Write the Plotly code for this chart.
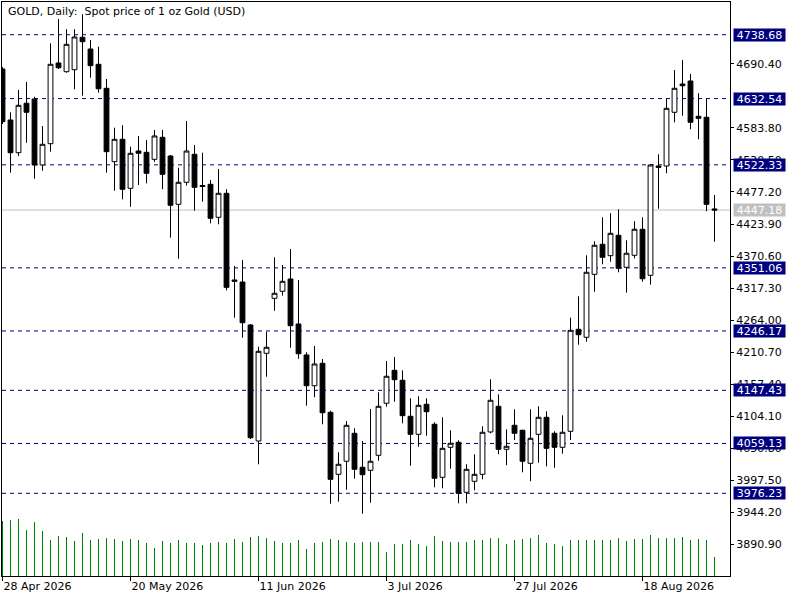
import plotly.graph_objects as go
import pandas as pd

# ---------------- data ----------------
dates = pd.bdate_range("2026-04-28", periods=90)

opens = [4681.7, 4596.9, 4542.5, 4624.7, 4631.8, 4522.1, 4557.5, 4691.7, 4677.2, 4680.5,
         4734.4, 4714.9, 4689.5, 4649.6, 4527.6, 4564.8, 4483.3, 4545.3, 4543.2, 4531.5,
         4568.1, 4537.0, 4456.7, 4493.3, 4539.9, 4488.0, 4490.0, 4435.1, 4475.0, 4330.9,
         4327.5, 4256.1, 4063.2, 4209.0, 4300.4, 4312.1, 4332.5, 4257.7, 4206.2, 4155.1,
         4192.4, 4110.9, 4007.8, 4029.5, 4076.0, 4019.5, 4014.5, 4039.4, 4125.9, 4180.7,
         4164.1, 4104.3, 4074.3, 4124.2, 4091.0, 4002.8, 4052.7, 4061.0, 3977.9, 3996.2,
         4007.8, 4078.2, 4120.9, 4049.4, 4089.3, 4081.0, 4026.1, 4074.3, 4102.6, 4076.0,
         4052.7, 4079.3, 4248.9, 4235.6, 4340.3, 4390.2, 4371.3, 4405.2, 4352.0, 4371.9,
         4415.2, 4338.7, 4520.4, 4520.4, 4609.7, 4656.7, 4661.7, 4603.0, 4601.4, 4449.0]
highs = [4685.0, 4609.7, 4646.8, 4660.1, 4635.6, 4586.9, 4724.4, 4764.8, 4747.7, 4747.7,
         4772.6, 4729.9, 4718.8, 4665.1, 4584.1, 4588.1, 4552.5, 4570.3, 4563.6, 4580.3,
         4580.3, 4538.7, 4517.6, 4595.2, 4555.3, 4542.5, 4497.1, 4515.4, 4481.7, 4354.1,
         4364.1, 4257.7, 4220.0, 4244.9, 4368.6, 4355.8, 4382.4, 4330.9, 4210.7, 4221.1,
         4199.5, 4113.6, 4044.4, 4096.4, 4084.3, 4063.2, 4116.4, 4144.2, 4196.2, 4202.9,
         4180.7, 4134.2, 4137.5, 4134.2, 4094.3, 4102.6, 4081.0, 4064.4, 4024.5, 4041.1,
         4087.6, 4165.8, 4140.8, 4082.6, 4115.9, 4082.0, 4115.9, 4120.9, 4112.6, 4079.3,
         4105.9, 4268.2, 4303.8, 4371.9, 4395.2, 4435.1, 4441.8, 4448.4, 4396.9, 4428.5,
         4435.1, 4523.5, 4539.9, 4631.8, 4680.0, 4696.6, 4673.4, 4641.3, 4631.8, 4472.2]
lows = [4590.2, 4509.3, 4537.0, 4559.1, 4499.3, 4512.6, 4544.2, 4681.7, 4675.5, 4647.9,
        4637.3, 4667.2, 4642.3, 4509.3, 4479.3, 4465.0, 4452.7, 4488.8, 4491.6, 4527.1,
        4481.7, 4401.2, 4366.3, 4487.7, 4446.1, 4461.1, 4425.1, 4423.5, 4313.7, 4268.2,
        4234.9, 4066.5, 4024.5, 4170.1, 4279.8, 4304.8, 4218.3, 4200.0, 4121.9, 4135.9,
        4091.0, 3959.0, 3962.3, 3982.2, 4000.5, 3942.3, 3960.6, 4030.4, 4120.2, 4128.5,
        4092.6, 4022.1, 4053.7, 4072.0, 3986.2, 3984.6, 4017.1, 3959.6, 3959.6, 3981.2,
        3999.5, 4076.0, 4041.1, 4022.8, 4064.9, 4011.2, 3996.2, 4027.1, 4021.1, 4018.8,
        4042.1, 4064.9, 4223.3, 4228.3, 4311.4, 4357.0, 4361.3, 4343.7, 4309.8, 4366.9,
        4328.0, 4323.1, 4449.4, 4508.3, 4593.1, 4604.0, 4581.4, 4564.8, 4445.1, 4394.5]
closes = [4594.1, 4542.5, 4621.3, 4609.7, 4522.1, 4556.5, 4689.5, 4683.8, 4722.7, 4734.9,
          4727.1, 4687.2, 4648.9, 4544.2, 4564.8, 4481.7, 4541.5, 4541.5, 4508.3, 4570.3,
          4506.6, 4455.1, 4493.3, 4545.3, 4485.0, 4486.3, 4433.5, 4475.0, 4318.7, 4328.7,
          4259.9, 4068.7, 4212.3, 4219.0, 4308.8, 4328.7, 4254.9, 4208.3, 4155.1, 4191.2,
          4110.2, 3999.5, 4024.5, 4089.3, 4016.1, 4007.2, 4029.5, 4120.9, 4170.8, 4165.1,
          4105.3, 4074.3, 4122.5, 4111.9, 4001.2, 4051.0, 4059.4, 3976.2, 4016.1, 4007.8,
          4077.7, 4130.9, 4049.4, 4054.4, 4076.0, 4029.5, 4067.7, 4102.6, 4051.0, 4052.7,
          4077.7, 4247.2, 4239.9, 4343.7, 4388.6, 4368.6, 4408.5, 4350.3, 4375.3, 4415.2,
          4333.0, 4522.1, 4518.2, 4616.3, 4649.6, 4653.9, 4593.1, 4599.7, 4456.7, 4447.18]
volumes = [55000, 56000, 57000, 46000, 54000, 45000, 36000, 40000, 39000, 35000,
           43000, 36000, 37000, 38000, 37000, 35000, 37000, 36000, 33000, 28000,
           35000, 33000, 36000, 33000, 33000, 31000, 33000, 34000, 33000, 37000,
           34000, 39000, 40000, 38000, 35000, 33000, 33000, 36000, 27000, 33000,
           34000, 37000, 36000, 34000, 33000, 34000, 34000, 34000, 24000, 32000,
           32000, 36000, 32000, 30000, 40000, 35000, 34000, 34000, 34000, 36000,
           36000, 38000, 38000, 32000, 36000, 37000, 38000, 41000, 33000, 32000,
           30000, 36000, 36000, 36000, 36000, 36000, 36000, 38000, 35000, 37000,
           37000, 41000, 38000, 38000, 38000, 39000, 36000, 37000, 36000, 19000]

levels = [4738.68, 4632.54, 4522.33, 4351.06, 4246.17, 4147.43, 4059.13, 3976.23]
last_price = 4447.18
price_ticks = [4690.40, 4583.80, 4530.50, 4477.20, 4423.90, 4370.60, 4317.30, 4264.00,
               4210.70, 4157.40, 4104.10, 4050.80, 3997.50, 3944.20, 3890.90]
date_ticks = ["2026-04-28", "2026-05-20", "2026-06-11", "2026-07-03", "2026-07-27", "2026-08-18"]
title_text = "GOLD, Daily:\u00a0 Spot price of 1 oz Gold (USD)"

# ---------------- figure ----------------
idx = list(range(len(dates)))
date_strs = [d.strftime("%Y-%m-%d") for d in dates]
tick_pos = [date_strs.index(d) for d in date_ticks]
tick_txt = [pd.Timestamp(d).strftime("%-d %b %Y") for d in date_ticks]

FONT = "DejaVu Sans"
NAVY = "#000080"

fig = go.Figure()

# volume histogram (thin green lines)
vx, vy = [], []
for i, v in zip(idx, volumes):
    vx += [i, i, None]
    vy += [0, v, None]
fig.add_trace(go.Scatter(x=vx, y=vy, mode="lines", yaxis="y2",
                         line=dict(color="#008000", width=1),
                         hoverinfo="skip", showlegend=False))

fig.add_trace(go.Candlestick(
    x=idx, open=opens, high=highs, low=lows, close=closes,
    increasing=dict(line=dict(color="black", width=1), fillcolor="white"),
    decreasing=dict(line=dict(color="black", width=1), fillcolor="black"),
    whiskerwidth=0, showlegend=False))

shapes = []
for lv in levels:
    shapes.append(dict(type="line", xref="paper", x0=0, x1=1, yref="y", y0=lv, y1=lv,
                       line=dict(color=NAVY, width=1, dash="4px,4px"), layer="below"))
shapes.append(dict(type="line", xref="paper", x0=0, x1=1, yref="y", y0=last_price, y1=last_price,
                   line=dict(color="#C0C0C0", width=1), layer="below"))

annotations = [dict(text=title_text, xref="paper", yref="paper", x=0.005, y=0.999,
                    xanchor="left", yanchor="top", showarrow=False,
                    font=dict(family=FONT, size=11, color="black"))]
for lv in levels:
    annotations.append(dict(text=f"{lv:.2f}", xref="paper", yref="y", x=1.0045, y=lv,
                            xanchor="left", yanchor="middle", showarrow=False,
                            bgcolor=NAVY, width=51, height=12, borderpad=0, align="center",
                            font=dict(family=FONT, size=11, color="white")))
annotations.append(dict(text=f"{last_price:.2f}", xref="paper", yref="y", x=1.0045, y=last_price,
                        xanchor="left", yanchor="middle", showarrow=False,
                        bgcolor="#C0C0C0", width=51, height=12, borderpad=0, align="center",
                        font=dict(family=FONT, size=11, color="white")))

fig.update_layout(
    width=800, height=600,
    margin=dict(l=2, r=70, t=2, b=24),
    paper_bgcolor="white", plot_bgcolor="white",
    font=dict(family=FONT, size=11, color="black"),
    showlegend=False,
    boxgap=0.4, boxgroupgap=0,
    shapes=shapes, annotations=annotations,
    xaxis=dict(range=[-0.0625, 90.9375], tickvals=tick_pos, ticktext=tick_txt,
               ticks="outside", ticklen=4, tickcolor="black", tickwidth=1,
               ticklabelposition="outside right",
               showgrid=False, zeroline=False, showline=True, linecolor="black",
               linewidth=1, mirror=True, rangeslider=dict(visible=False),
               tickfont=dict(family=FONT, size=11, color="black")),
    yaxis=dict(range=[3838.74, 4793.07], side="right", tickvals=price_ticks,
               ticktext=[f"{t:.2f}" for t in price_ticks],
               ticks="outside", ticklen=3, tickcolor="black", tickwidth=1,
               showgrid=False, zeroline=False, showline=True, linecolor="black",
               linewidth=1, mirror=True,
               tickfont=dict(family=FONT, size=11, color="black")),
    yaxis2=dict(range=[0, 574000], overlaying="y", visible=False),
)

fig.write_html("out.html", config={"displayModeBar": False},
               post_script="document.body.style.margin='0px';")
